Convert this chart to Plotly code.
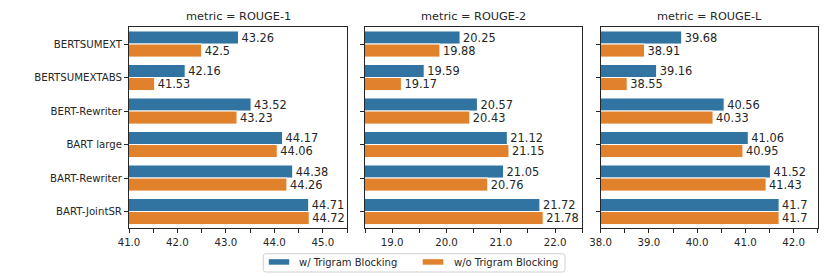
import plotly.graph_objects as go

models = ["BERTSUMEXT", "BERTSUMEXTABS", "BERT-Rewriter", "BART large", "BART-Rewriter", "BART-JointSR"]
metrics = ["ROUGE-1", "ROUGE-2", "ROUGE-L"]
series_names = ["w/ Trigram Blocking", "w/o Trigram Blocking"]

r1_with = [43.26, 42.16, 43.52, 44.17, 44.38, 44.71]
r1_without = [42.5, 41.53, 43.23, 44.06, 44.26, 44.72]
r2_with = [20.25, 19.59, 20.57, 21.12, 21.05, 21.72]
r2_without = [19.88, 19.17, 20.43, 21.15, 20.76, 21.78]
rl_with = [39.68, 39.16, 40.56, 41.06, 41.52, 41.7]
rl_without = [38.91, 38.55, 40.33, 40.95, 41.43, 41.7]

x_ranges = [[41.0, 45.5], [18.5, 22.5], [38.0, 42.5]]
x_ticks = [[41, 42, 43, 44, 45], [19, 20, 21, 22], [38, 39, 40, 41, 42]]

colors = ["#3274a1", "#e1812c"]
dark = "#262626"
FONT = "DejaVu Sans"

W, H = 830, 277
x_px = [(129, 347), (365, 582.3), (600.7, 817.7)]
y_top, y_bot = 27.3, 228.3

data = [(r1_with, r1_without), (r2_with, r2_without), (rl_with, rl_without)]


def px(x):
    return x / W


def py(y):
    return 1 - y / H


fig = go.Figure()
for i, (vw, vwo) in enumerate(data):
    xa = "x" if i == 0 else f"x{i+1}"
    ya = "y" if i == 0 else f"y{i+1}"
    for j, vals in enumerate((vw, vwo)):
        fig.add_trace(go.Bar(
            y=models, x=vals, orientation="h",
            name=series_names[j], showlegend=False,
            marker=dict(color=colors[j], line=dict(color="white", width=1)),
            text=[str(v) for v in vals], textposition="outside",
            constraintext="none", cliponaxis=False,
            textfont=dict(family=FONT, size=11.4, color=dark),
            xaxis=xa, yaxis=ya,
        ))

layout = dict(
    width=W, height=H,
    margin=dict(l=0, r=0, t=0, b=0, autoexpand=False),
    paper_bgcolor="white", plot_bgcolor="white",
    barmode="group", bargap=0.22, bargroupgap=0,
    font=dict(family=FONT, color=dark, size=10.2),
    showlegend=False,
)

annotations = []
shapes = []
for i in range(3):
    x0, x1 = x_px[i]
    key = "" if i == 0 else str(i + 1)
    layout[f"xaxis{key}"] = dict(
        domain=[px(x0), px(x1)], range=x_ranges[i],
        anchor=f"y{key}", automargin=False,
        tickvals=x_ticks[i], tickformat=".1f",
        ticks="outside", ticklen=4, tickwidth=1, tickcolor=dark,
        minor=dict(dtick=0.5, tick0=0, ticks="outside", ticklen=4, tickwidth=1, tickcolor=dark),
        showline=True, mirror=True, linecolor=dark, linewidth=1,
        showgrid=False, zeroline=False,
        tickfont=dict(family=FONT, size=10.2, color=dark),
    )
    layout[f"yaxis{key}"] = dict(
        domain=[py(y_bot), py(y_top)],
        anchor=f"x{key}", automargin=False,
        categoryorder="array", categoryarray=models,
        autorange="reversed",
        ticks="outside", ticklen=4, tickwidth=1, tickcolor=dark,
        showticklabels=(i == 0),
        showline=True, mirror=True, linecolor=dark, linewidth=1,
        showgrid=False, zeroline=False,
        tickfont=dict(family=FONT, size=10.2, color=dark),
    )
    annotations.append(dict(
        text=f"metric = {metrics[i]}", x=px((x0 + x1) / 2), y=py(17),
        xref="paper", yref="paper", xanchor="center", yanchor="middle",
        showarrow=False, font=dict(family=FONT, size=11.3, color=dark),
    ))

# legend drawn manually (matplotlib-style wide swatches, rounded box)
lx0, lx1, ly0, ly1, r = 263.3, 565, 253.7, 272, 2.5
path = (f"M {px(lx0 + r)},{py(ly0)} L {px(lx1 - r)},{py(ly0)} "
        f"Q {px(lx1)},{py(ly0)} {px(lx1)},{py(ly0 + r)} "
        f"L {px(lx1)},{py(ly1 - r)} Q {px(lx1)},{py(ly1)} {px(lx1 - r)},{py(ly1)} "
        f"L {px(lx0 + r)},{py(ly1)} Q {px(lx0)},{py(ly1)} {px(lx0)},{py(ly1 - r)} "
        f"L {px(lx0)},{py(ly0 + r)} Q {px(lx0)},{py(ly0)} {px(lx0 + r)},{py(ly0)} Z")
shapes.append(dict(type="path", path=path, xref="paper", yref="paper",
                   line=dict(color="#d0d0d0", width=1), fillcolor="white"))
leg_items = [(268.8, 289.2, 297.3), (422.7, 443.3, 451.7)]
for j, (sx0, sx1, tx) in enumerate(leg_items):
    shapes.append(dict(type="rect", xref="paper", yref="paper",
                       x0=px(sx0), x1=px(sx1), y0=py(264.7), y1=py(259.2),
                       fillcolor=colors[j], line=dict(width=0)))
    annotations.append(dict(
        text=series_names[j], x=px(tx), y=py(262.3), xref="paper", yref="paper",
        xanchor="left", yanchor="middle", showarrow=False,
        font=dict(family=FONT, size=10, color=dark),
    ))

layout["annotations"] = annotations
layout["shapes"] = shapes

fig.update_layout(**layout)
fig.write_html(
    "out.html",
    config={"displayModeBar": False, "staticPlot": True},
    post_script="document.body.style.margin='0';document.body.style.padding='0';document.body.style.overflow='hidden';",
)
